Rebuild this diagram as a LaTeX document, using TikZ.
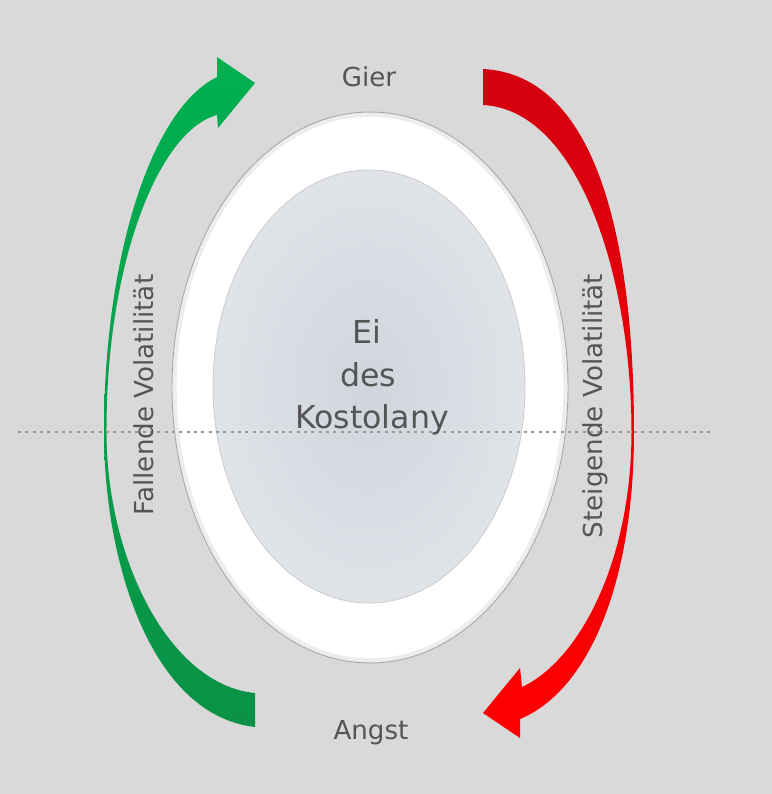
\documentclass[tikz,border=0pt]{standalone}
\usepackage{fontspec}
\setmainfont{DejaVu Sans}
\definecolor{bg}{HTML}{D9D9D9}
\definecolor{txt}{HTML}{555555}
\definecolor{gtop}{HTML}{00B050}
\definecolor{gbot}{HTML}{0A9146}
\definecolor{rtop}{HTML}{D40010}
\definecolor{rbot}{HTML}{FF0000}
\definecolor{rimcol}{HTML}{A8A8A8}
\definecolor{eggin}{HTML}{D0D5DD}
\definecolor{eggout}{HTML}{E0E3E8}
\definecolor{dashcol}{HTML}{999999}
\tikzset{
  lbl/.style={text=txt, inner sep=0pt, font=\fontsize{19.6}{23}\selectfont},
  biglbl/.style={text=txt, inner sep=0pt, font=\fontsize{23.7}{28}\selectfont},
}
\begin{document}
\begin{tikzpicture}[x=0.75pt,y=-0.75pt]
\useasboundingbox (0,0) rectangle (772,794);
\fill[bg] (0,0) rectangle (772,794);
% outer white egg
\coordinate (oc) at (370,387.5);
\fill[white] (oc) ellipse [x radius=148.5pt, y radius=206.6pt];
\draw[white!93!black, line width=3pt] (oc) ellipse [x radius=146.5pt, y radius=204.6pt];
\draw[rimcol, line width=0.7pt] (oc) ellipse [x radius=148.5pt, y radius=206.6pt];
% inner egg
\coordinate (ic) at (369,386.5);
\shade[inner color=eggin, outer color=eggout] (ic) ellipse [x radius=117pt, y radius=162.4pt];
\draw[white!80!black, line width=0.6pt] (ic) ellipse [x radius=117pt, y radius=162.4pt];
% green arrow
\shade[top color=gtop, bottom color=gbot]
  (255,727) .. controls (150,715) and (104,560) .. (104,432)
  .. controls (104,260) and (150,110) .. (217,77)
  -- (217,57) -- (255,83) -- (218,128) -- (217,115)
  .. controls (160,130) and (106,260) .. (106.5,432)
  .. controls (106.5,560) and (170,685) .. (255,693) -- cycle;
% red arrow
\shade[top color=rtop, bottom color=rbot]
  (483,69) .. controls (600,75) and (634,250) .. (634,432)
  .. controls (634,580) and (590,690) .. (520,719)
  -- (520,738) -- (483,713) -- (520,668) -- (522,687)
  .. controls (580,660) and (631.5,560) .. (631.5,432)
  .. controls (631.5,280) and (580,110) .. (483,105) -- cycle;
% dotted line
\coordinate (dl) at (18,432);
\coordinate (dr) at (713,432);
\draw[dashcol, line width=0.8pt, dash pattern=on 2.2pt off 3.3pt] (dl) -- (dr);
% labels
\node[lbl, anchor=base] (gier) at (369,86) {Gier};
\node[lbl, anchor=base] (angst) at (371,739) {Angst};
\node[biglbl, anchor=base] (ei) at (367,343) {Ei};
\node[biglbl, anchor=base] (des) at (368,386) {des};
\node[biglbl, anchor=base] (kost) at (372,428) {Kostolany};
\node[lbl, anchor=base, rotate=90] (fall) at (153,395) {Fallende Volatilität};
\node[lbl, anchor=base, rotate=90] (steig) at (602,406) {Steigende Volatilität};
\end{tikzpicture}
\end{document}
